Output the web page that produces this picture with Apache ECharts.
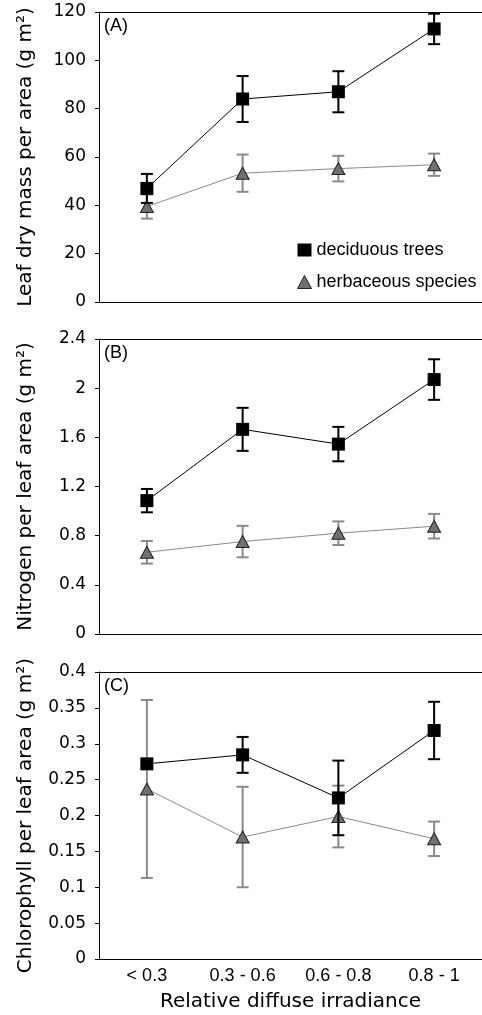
<!DOCTYPE html>
<html>
<head>
<meta charset="utf-8">
<script src="https://cdn.jsdelivr.net/npm/echarts@6/dist/echarts.min.js"></script>
<style>
  html, body { margin: 0; padding: 0; background: #fff; overflow: hidden; }
  #chart { width: 482px; height: 1015px; }
</style>
</head>
<body>
<div id="chart"></div>
<script>
// categories of relative diffuse irradiance
const categories = ['< 0.3', '0.3 - 0.6', '0.6 - 0.8', '0.8 - 1'];

// (A) leaf dry mass per area
const lmaTrees = [47, 84, 87, 113];
const lmaTreesErr = [6, 9.5, 8.5, 6.3];
const lmaHerbs = [39.5, 53.3, 55.2, 56.8];
const lmaHerbsErr = [5, 7.7, 5.3, 4.6];

// (B) nitrogen per leaf area
const nTrees = [1.085, 1.665, 1.545, 2.07];
const nTreesErr = [0.095, 0.175, 0.14, 0.165];
const nHerbs = [0.665, 0.752, 0.82, 0.877];
const nHerbsErr = [0.092, 0.128, 0.096, 0.1];

// (C) chlorophyll per leaf area
const chlTrees = [0.272, 0.2845, 0.2245, 0.3185];
const chlTreesErr = [0.006, 0.025, 0.052, 0.04];
const chlHerbs = [0.237, 0.17, 0.1986, 0.1675];
const chlHerbsErr = [0.124, 0.07, 0.043, 0.024];

// y axis ticks
const yTicks = [
  { min: 0, max: 120, interval: 20 },
  { min: 0, max: 2.4, interval: 0.4 },
  { min: 0, max: 0.4, interval: 0.05 }
];
const yNames = [
  'Leaf dry mass per area (g m²)',
  'Nitrogen per leaf area (g m²)',
  'Chlorophyll per leaf area (g m²)'
];
const panelLabels = ['(A)', '(B)', '(C)'];

const chart = echarts.init(document.getElementById('chart'));

const TREE = '#000';
const HERB_LINE = '#8a8a8a';
const HERB_FILL = '#707070';

// plot area runs past the right edge of the page, as in the original figure
const grids = [
  { left: 99, top: 12, width: 388, height: 290 },
  { left: 99, top: 339, width: 388, height: 295 },
  { left: 99, top: 672, width: 388, height: 287 }
];

// error bars drawn through the axes
function errorBars(idx, vals, errs, color) {
  return {
    type: 'custom',
    xAxisIndex: idx,
    yAxisIndex: idx,
    silent: true,
    z: color === TREE ? 4 : 2,
    data: vals.map((v, i) => [i, v - errs[i], v + errs[i]]),
    renderItem: (params, api) => {
      const lo = api.coord([api.value(0), api.value(1)]);
      const hi = api.coord([api.value(0), api.value(2)]);
      const w = 6;
      const style = { stroke: color, lineWidth: 2 };
      return {
        type: 'group',
        children: [
          { type: 'line', shape: { x1: lo[0], y1: lo[1], x2: hi[0], y2: hi[1] }, style },
          { type: 'line', shape: { x1: hi[0] - w, y1: hi[1], x2: hi[0] + w, y2: hi[1] }, style },
          { type: 'line', shape: { x1: lo[0] - w, y1: lo[1], x2: lo[0] + w, y2: lo[1] }, style }
        ]
      };
    }
  };
}

function treeLine(idx, vals) {
  return {
    name: 'deciduous trees',
    type: 'line',
    xAxisIndex: idx,
    yAxisIndex: idx,
    z: 5,
    data: vals,
    symbol: 'rect',
    symbolSize: 13,
    lineStyle: { color: TREE, width: 1 },
    itemStyle: { color: TREE }
  };
}

function herbLine(idx, vals) {
  return {
    name: 'herbaceous species',
    type: 'line',
    xAxisIndex: idx,
    yAxisIndex: idx,
    z: 3,
    data: vals,
    symbol: 'triangle',
    symbolSize: [13, 12],
    lineStyle: { color: HERB_LINE, width: 1 },
    itemStyle: { color: HERB_FILL, borderColor: '#222', borderWidth: 1 }
  };
}

const bottomAxes = grids.map((g, i) => ({
  type: 'category',
  gridIndex: i,
  data: categories,
  boundaryGap: true,
  axisLine: { lineStyle: { color: '#000', width: 1 } },
  axisTick: { alignWithLabel: true, length: 4, lineStyle: { color: '#000' } },
  axisLabel: {
    show: i === 2,
    margin: 8,
    fontFamily: 'Liberation Sans',
    fontSize: 18,
    color: '#000'
  },
  name: i === 2 ? 'Relative diffuse irradiance' : '',
  nameLocation: 'middle',
  nameGap: 33,
  nameTextStyle: { fontFamily: 'DejaVu Sans', fontSize: 20, color: '#000' }
}));

// top frame line of each panel
const topAxes = grids.map((g, i) => ({
  type: 'category',
  gridIndex: i,
  position: 'top',
  data: categories,
  axisLine: { lineStyle: { color: '#000', width: 1 } },
  axisTick: { show: false },
  axisLabel: { show: false }
}));

const option = {
  animation: false,
  title: panelLabels.map((t, i) => ({
    text: t,
    left: 104,
    top: grids[i].top + 5,
    padding: 0,
    textStyle: { fontFamily: 'Liberation Sans', fontSize: 18, fontWeight: 'normal', color: '#000' }
  })),
  legend: {
    orient: 'vertical',
    left: 292,
    top: 236,
    itemWidth: 14,
    itemHeight: 13,
    itemGap: 14,
    textStyle: { fontFamily: 'Liberation Sans', fontSize: 18, color: '#000' },
    data: [
      { name: 'deciduous trees', icon: 'rect', itemStyle: { color: TREE } },
      { name: 'herbaceous species', icon: 'triangle', itemStyle: { color: HERB_FILL, borderColor: '#222', borderWidth: 1 } }
    ]
  },
  grid: grids,
  xAxis: bottomAxes.concat(topAxes),
  yAxis: yTicks.map((t, i) => ({
    type: 'value',
    gridIndex: i,
    min: t.min,
    max: t.max,
    interval: t.interval,
    splitLine: { show: false },
    axisLine: { show: true, lineStyle: { color: '#000', width: 1 } },
    axisTick: { show: true, length: 4, lineStyle: { color: '#000' } },
    axisLabel: { margin: 13, fontFamily: 'DejaVu Sans', fontSize: 17, color: '#000' },
    name: yNames[i],
    nameLocation: 'middle',
    nameGap: 63,
    nameTextStyle: { fontFamily: 'DejaVu Sans', fontSize: 20, color: '#000' }
  })),
  series: [
    errorBars(0, lmaHerbs, lmaHerbsErr, HERB_LINE),
    herbLine(0, lmaHerbs),
    errorBars(0, lmaTrees, lmaTreesErr, TREE),
    treeLine(0, lmaTrees),
    errorBars(1, nHerbs, nHerbsErr, HERB_LINE),
    herbLine(1, nHerbs),
    errorBars(1, nTrees, nTreesErr, TREE),
    treeLine(1, nTrees),
    errorBars(2, chlHerbs, chlHerbsErr, HERB_LINE),
    herbLine(2, chlHerbs),
    errorBars(2, chlTrees, chlTreesErr, TREE),
    treeLine(2, chlTrees)
  ]
};

chart.setOption(option);
window.addEventListener('resize', () => chart.resize());
</script>
</body>
</html>
